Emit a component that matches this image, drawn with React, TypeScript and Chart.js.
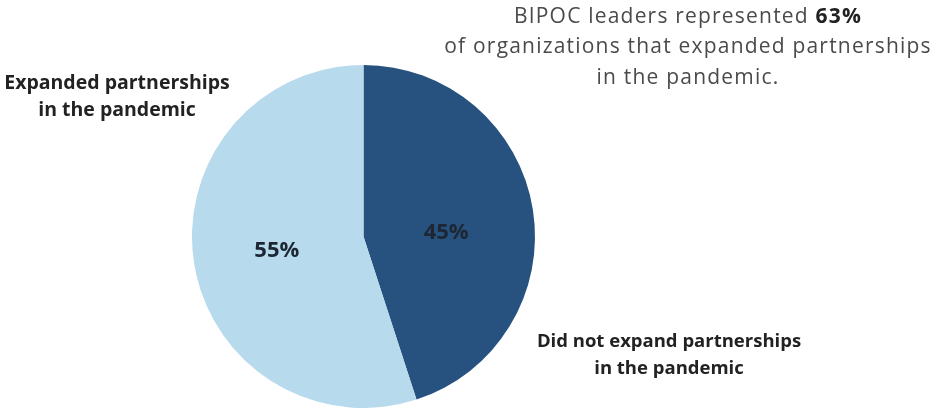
import React, { useEffect, useRef } from "react";
import { Chart, registerables } from "chart.js";

Chart.register(...registerables);

const categories = ["Did not expand partnerships in the pandemic", "Expanded partnerships in the pandemic"];
const values = [45, 55];
const colors = ["#27527f", "#b7daed"];
const sliceLabels = ["45%", "55%"];
const labelLines: string[][] = [
  ["Did not expand partnerships", "in the pandemic"],
  ["Expanded partnerships", "in the pandemic"],
];
const noteLines = ["BIPOC leaders represented ", "63%", "of organizations that expanded partnerships", "in the pandemic."];

const annotationPlugin = {
  id: "annotations",
  afterDatasetsDraw(chart: any) {
    const ctx = chart.ctx as CanvasRenderingContext2D;
    const meta = chart.getDatasetMeta(0);
    ctx.save();
    ctx.textAlign = "center";
    ctx.textBaseline = "middle";
    // slice percentage labels
    ctx.fillStyle = "#1c2733";
    ctx.font = "bold 22px 'Open Sans'";
    meta.data.forEach((arc: any, i: number) => {
      const p = arc.tooltipPosition();
      const dy = i === 0 ? 10 : 1;
      ctx.fillText(sliceLabels[i], p.x - 2, p.y + dy);
    });
    // category labels
    ctx.fillStyle = "#222222";
    const pos = [
      { x: 669, y: 342, size: 18.5 },
      { x: 117, y: 83, size: 19.5 },
    ];
    labelLines.forEach((lines, i) => {
      ctx.font = `bold ${pos[i].size}px 'Open Sans'`;
      lines.forEach((t, j) => ctx.fillText(t, pos[i].x, pos[i].y + j * 27));
    });
    // note
    (ctx as any).letterSpacing = "1.2px";
    const f = "21px 'Open Sans'";
    const fb = "bold 21px 'Open Sans'";
    ctx.fillStyle = "#4a4a4a";
    ctx.font = f;
    const w1 = ctx.measureText(noteLines[0]).width;
    ctx.font = fb;
    const w2 = ctx.measureText(noteLines[1]).width;
    const cx = 688;
    const start = cx - (w1 + w2) / 2;
    ctx.textAlign = "left";
    ctx.font = f;
    ctx.fillText(noteLines[0], start, 17);
    ctx.fillStyle = "#222222";
    ctx.font = fb;
    ctx.fillText(noteLines[1], start + w1, 17);
    ctx.textAlign = "center";
    ctx.fillStyle = "#4a4a4a";
    ctx.font = f;
    ctx.fillText(noteLines[2], cx, 47);
    ctx.fillText(noteLines[3], cx, 78);
    ctx.restore();
  },
};

export default function App() {
  const ref = useRef<HTMLCanvasElement>(null);
  useEffect(() => {
    if (!ref.current) return;
    const chart = new Chart(ref.current, {
      type: "pie",
      data: {
        labels: categories,
        datasets: [
          {
            data: values,
            backgroundColor: colors,
            borderWidth: 0,
          },
        ],
      },
      options: {
        animation: false,
        responsive: false,
        layout: { padding: { left: 192, right: 402, top: 65, bottom: 0 } },
        plugins: {
          legend: { display: false },
          tooltip: { enabled: false },
        },
      },
      plugins: [annotationPlugin],
    });
    return () => chart.destroy();
  }, []);
  return (
    <div style={{ position: "fixed", left: 0, top: 0, width: 937, height: 408, background: "#ffffff" }}>
      <canvas ref={ref} width={937} height={408} />
    </div>
  );
}
